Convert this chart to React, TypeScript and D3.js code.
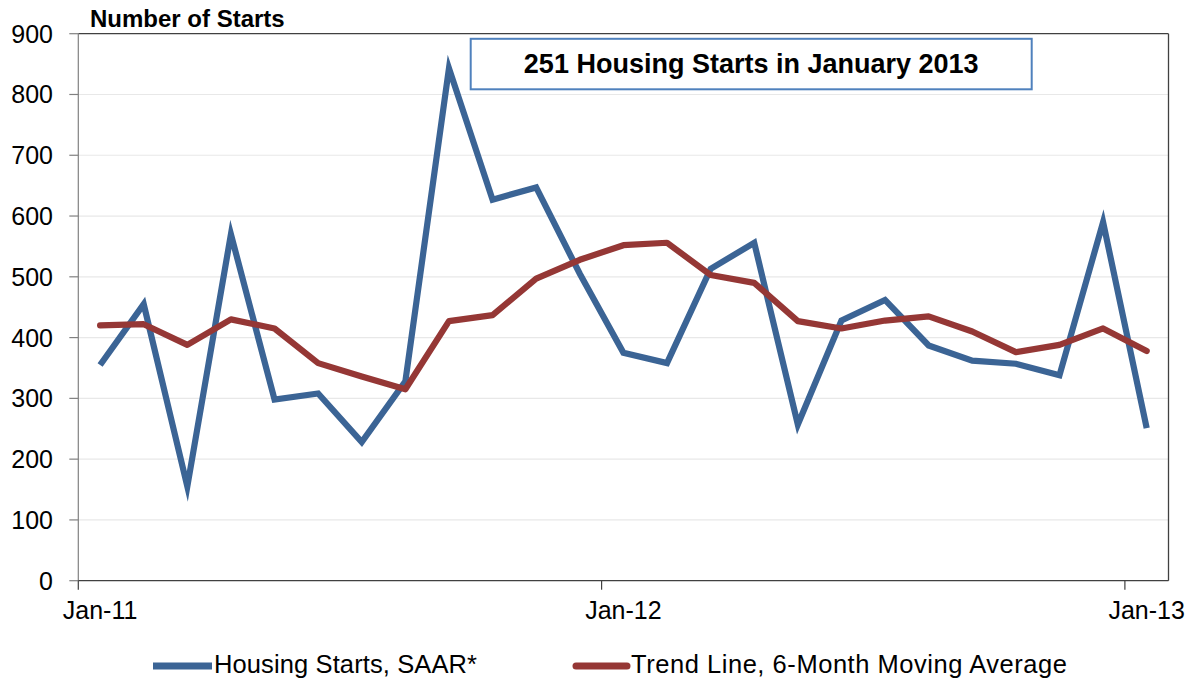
import React from "react";
import * as d3 from "d3";

const months: string[] = [
  "Jan-11","Feb-11","Mar-11","Apr-11","May-11","Jun-11","Jul-11","Aug-11","Sep-11","Oct-11","Nov-11","Dec-11",
  "Jan-12","Feb-12","Mar-12","Apr-12","May-12","Jun-12","Jul-12","Aug-12","Sep-12","Oct-12","Nov-12","Dec-12",
  "Jan-13",
];
const housingStarts: number[] = [355, 455, 155, 570, 298, 308, 228, 328, 843, 627, 647, 505, 375, 358, 513, 556, 257, 428, 462, 387, 362, 357, 338, 590, 251];
const trendLine: number[] = [420, 422, 388, 430, 415, 358, 336, 315, 427, 437, 497, 528, 552, 556, 503, 490, 427, 415, 428, 435, 410, 376, 388, 415, 378];
const xTickLabels: string[] = ["Jan-11", "Jan-12", "Jan-13"];
const yTicks: number[] = [0, 100, 200, 300, 400, 500, 600, 700, 800, 900];
const seriesNames: string[] = ["Housing Starts, SAAR*", "Trend Line, 6-Month Moving Average"];
const yAxisTitle = "Number of Starts";
const calloutText = "251 Housing Starts in January 2013";

const W = 1196;
const H = 683;
const left = 78.3;
const right = 1168.5;
const top = 33.7;
const bottom = 580.7;
const BLUE = "#3b6495";
const RED = "#953735";
const FONT = "'Liberation Sans', Arial, sans-serif";

export default function App() {
  const x = d3.scaleBand<string>().domain(months).range([left, right]).padding(0);
  const y = d3.scaleLinear().domain([0, 900]).range([bottom, top]);
  const cx = (m: string) => (x(m) as number) + x.bandwidth() / 2;

  const line = d3
    .line<number>()
    .x((_, i) => cx(months[i]))
    .y((d) => y(d));

  return (
    <svg
      width={W}
      height={H}
      style={{ position: "absolute", left: 0, top: 0, display: "block", background: "#fff" }}
      fontFamily={FONT}
    >
      {/* gridlines */}
      {yTicks.filter((t) => t > 0 && t < 900).map((t) => (
        <line key={"g" + t} x1={left} x2={right} y1={y(t)} y2={y(t)} stroke="#e8e8e8" strokeWidth={1.2} />
      ))}
      {/* plot border: top & right */}
      <line x1={left} x2={right} y1={top} y2={top} stroke="#404040" strokeWidth={1.3} />
      <line x1={right} x2={right} y1={top} y2={bottom} stroke="#404040" strokeWidth={1.3} />
      {/* y axis */}
      <line x1={left} x2={left} y1={top} y2={bottom} stroke="#808080" strokeWidth={1.2} />
      {yTicks.map((t) => (
        <g key={"y" + t}>
          <line x1={left - 9} x2={left} y1={y(t)} y2={y(t)} stroke="#808080" strokeWidth={1.2} />
          <text x={53} y={y(t)} dy="0.36em" textAnchor="end" fontSize={25} fill="#000">
            {t}
          </text>
        </g>
      ))}
      {/* x axis */}
      <line x1={left} x2={right} y1={bottom} y2={bottom} stroke="#404040" strokeWidth={1.3} />
      {xTickLabels.map((m) => (
        <g key={"x" + m}>
          <line x1={x(m) as number} x2={x(m) as number} y1={bottom} y2={bottom + 9} stroke="#404040" strokeWidth={1.2} />
          <text x={cx(m)} y={619.3} textAnchor="middle" fontSize={25} fill="#000">
            {m}
          </text>
        </g>
      ))}
      {/* y axis title */}
      <text x={90} y={26.7} fontSize={24} fontWeight="bold" fill="#000">
        {yAxisTitle}
      </text>
      {/* series */}
      <path d={line(housingStarts) || ""} fill="none" stroke={BLUE} strokeWidth={6.2} strokeLinejoin="miter" strokeMiterlimit={10} />
      <path d={line(trendLine) || ""} fill="none" stroke={RED} strokeWidth={6.2} strokeLinejoin="round" strokeLinecap="round" />
      {/* callout */}
      <rect x={470.7} y={38.8} width={561} height={50.5} fill="#fff" stroke="#4f81bd" strokeWidth={2} />
      <text x={751.2} y={73.3} textAnchor="middle" fontSize={27} fontWeight="bold" fill="#000">
        {calloutText}
      </text>
      {/* legend */}
      <line x1={153} x2={212} y1={666} y2={666} stroke={BLUE} strokeWidth={7} />
      <text x={214} y={672.7} fontSize={25.5} fill="#000" textLength={263} lengthAdjust="spacing">
        {seriesNames[0]}
      </text>
      <line x1={576} x2={627} y1={666} y2={666} stroke={RED} strokeWidth={7} strokeLinecap="round" />
      <text x={631} y={672.7} fontSize={25.5} fill="#000" textLength={436} lengthAdjust="spacing">
        {seriesNames[1]}
      </text>
    </svg>
  );
}
